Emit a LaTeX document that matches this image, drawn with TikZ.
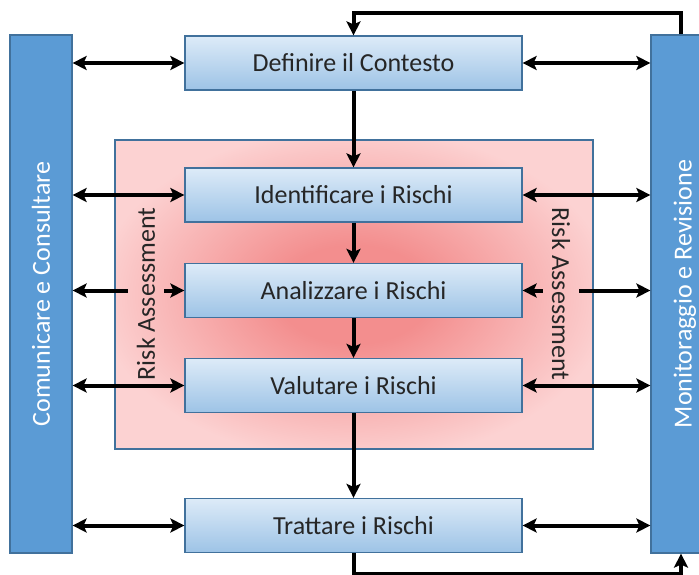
\documentclass[tikz,border=0pt]{standalone}
\usepackage{fontspec}
\setmainfont{Carlito}
\usepackage{tikz}
\usetikzlibrary{positioning,arrows.meta,calc}
\definecolor{barblue}{HTML}{5B9BD5}
\definecolor{edgeblue}{HTML}{41719C}
\definecolor{boxtop}{HTML}{DDEBF8}
\definecolor{boxbot}{HTML}{9DC3E6}
\definecolor{riskin}{HTML}{F38E8E}
\definecolor{riskout}{HTML}{FCD2D2}
\definecolor{txt}{HTML}{262626}
\pgfdeclareradialshading{riskglow}{\pgfpoint{0bp}{0bp}}{color(0bp)=(riskin); color(8bp)=(riskin); color(27bp)=(riskout); color(50bp)=(riskout)}

\begin{document}
\begin{tikzpicture}[x=1pt,y=-1pt,
  every node/.style={font=\fontsize{26}{31}\selectfont},
  procbox/.style={draw=edgeblue,line width=1.2pt,top color=boxtop,bottom color=boxbot,
    minimum width=337pt,minimum height=54pt,inner sep=0pt,text=txt},
  sidebar/.style={draw=edgeblue,line width=1.2pt,fill=barblue,text=white,
    minimum height=518pt,inner sep=0pt},
  risklbl/.style={inner xsep=9pt,inner ysep=0pt,text=txt},
  flow/.style={line width=4pt,-{Stealth[length=14pt,width=14pt,inset=3pt]}},
  both/.style={line width=4pt,{Stealth[length=14pt,width=14pt,inset=3pt]}-{Stealth[length=14pt,width=14pt,inset=3pt]}}]
\useasboundingbox (0,0) rectangle (699,575);
% risk assessment area
\node[draw=edgeblue,line width=1.2pt,shading=riskglow,
  minimum width=478pt,minimum height=309pt] (riskarea) at (354,294.5) {};
% side bars
\node[sidebar,minimum width=62pt] (comm) at (41,294) {\rotatebox{90}{Comunicare e Consultare}};
\node[sidebar,minimum width=68pt] (monit) at (685,294) {\rotatebox{90}{Monitoraggio e Revisione}};
% process steps
\node[procbox] (defn) at (353.5,63) {Definire il Contesto};
\node[procbox] (ident) at (353.5,195) {Identificare i Rischi};
\node[procbox] (analiz) at (353.5,290.5) {Analizzare i Rischi};
\node[procbox] (valut) at (353.5,385.5) {Valutare i Rischi};
\node[procbox] (tratt) at (353.5,525.5) {Trattare i Rischi};
\node[risklbl] (raleft) at (146,294) {\rotatebox{90}{Risk Assessment}};
\node[risklbl] (raright) at (561,294) {\rotatebox{-90}{Risk Assessment}};
% main flow
\draw[flow] (defn) -- (ident);
\draw[flow] (ident) -- (analiz);
\draw[flow] (analiz) -- (valut);
\draw[flow] (valut) -- (tratt);
% loops to monitoring
\draw[flow] ([xshift=-4pt]monit.north) -- ++(0,-21) -| (defn.north);
\draw[flow] (tratt.south) -- ++(0,21) -| ([xshift=-4pt]monit.south);
% communication / monitoring links
\foreach \s in {defn,ident,valut,tratt}{
  \draw[both] (comm.east |- \s.west) -- (\s.west);
  \draw[both] (\s.east) -- (monit.west |- \s.east);
}
\draw[flow] (raleft.west |- analiz.west) -- (comm.east |- analiz.west);
\draw[flow] (raleft.east |- analiz.west) -- (analiz.west);
\draw[flow] (raright.west |- analiz.east) -- (analiz.east);
\draw[flow] (raright.east |- analiz.east) -- (monit.west |- analiz.east);
\end{tikzpicture}
\end{document}
